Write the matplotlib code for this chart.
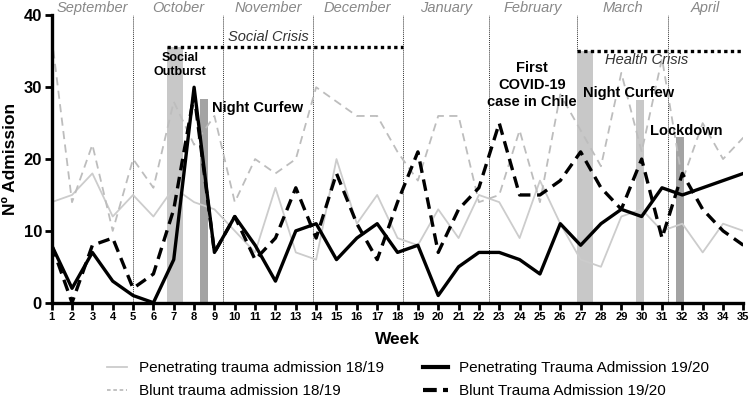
import matplotlib
matplotlib.use('Agg')
import matplotlib.pyplot as plt
from matplotlib.lines import Line2D

plt.rcParams['font.family'] = ['Liberation Sans', 'DejaVu Sans']

# Weekly admissions, Sept -> April
weeks = list(range(1, 36))
pen_1819 = [14, 15, 18, 12, 15, 12, 16, 14, 13, 10, 7, 16, 7, 6, 20, 11, 15, 9, 8, 13,
            9, 15, 14, 9, 17, 11, 6, 5, 12, 13, 10, 11, 7, 11, 10]
blunt_1819 = [37, 14, 22, 10, 20, 16, 28, 22, 26, 14, 20, 18, 20, 30, 28, 26, 26, 21, 17, 26,
              26, 14, 15, 24, 14, 29, 24, 19, 32, 21, 34, 17, 25, 20, 23]
pen_1920 = [8, 2, 7, 3, 1, 0, 6, 30, 7, 12, 8, 3, 10, 11, 6, 9, 11, 7, 8, 1,
            5, 7, 7, 6, 4, 11, 8, 11, 13, 12, 16, 15, 16, 17, 18]
blunt_1920 = [8, 0, 8, 9, 2, 4, 13, 29, 7, 12, 6, 9, 16, 9, 18, 11, 6, 14, 21, 7,
              13, 16, 25, 15, 15, 17, 21, 16, 13, 20, 9, 18, 13, 10, 8]

months = ['September', 'October', 'November', 'December', 'January', 'February', 'March', 'April']
month_edges = [1, 5, 9.43, 13.83, 18.26, 22.5, 26.84, 31.29, 35]

# event bars: (start week, end week, height, colour)
events = [(6.67, 7.45, 35.6, '#c8c8c8'),
          (8.30, 8.69, 28.3, '#a3a3a3'),
          (26.84, 27.6, 35.1, '#c8c8c8'),
          (29.7, 30.1, 28.2, '#c8c8c8'),
          (31.68, 32.09, 23.1, '#a3a3a3')]

fig = plt.figure(figsize=(7.49, 4.11), dpi=100)
ax = fig.add_axes([0.069, 0.2635, 0.9235, 0.699])

# month separators
for e in month_edges[1:]:
    ax.axvline(e, color='#333333', lw=0.7, ls=(0, (1, 1)), zorder=1)
for i, m in enumerate(months):
    mid = (month_edges[i] + month_edges[i + 1]) / 2
    ax.text(mid, 40.45, m, ha='center', va='baseline', fontsize=10.5, style='italic',
            color='#888888', clip_on=False)

# event bars
for x0, x1, h, c in events:
    ax.bar((x0 + x1) / 2, h, width=x1 - x0, color=c, zorder=1)

# crisis periods
ax.plot([6.67, 18.26], [35.6, 35.6], color='black', lw=2.4, dashes=(1, 1), zorder=2)
ax.plot([26.84, 35], [35.1, 35.1], color='black', lw=2.4, dashes=(1, 1), zorder=2)

ax.plot(weeks, pen_1819, color='#cccccc', lw=1.3, zorder=2)
ax.plot(weeks, blunt_1819, color='#bdbdbd', lw=1.3, dashes=(4.5, 3), zorder=2)
ax.plot(weeks, pen_1920, color='black', lw=2.4, zorder=3)
ax.plot(weeks, blunt_1920, color='black', lw=2.4, dashes=(3.5, 2), zorder=3)

# annotations
ax.text(7.31, 33.1, 'Social\nOutburst', ha='center', va='center', fontsize=9,
        fontweight='bold', linespacing=1.2, zorder=4)
ax.text(8.87, 27.1, 'Night Curfew', ha='left', va='center', fontsize=10.5,
        fontweight='bold', zorder=4)
ax.text(11.63, 37.0, 'Social Crisis', ha='center', va='center', fontsize=10.5,
        style='italic', color='#333333', zorder=4)
ax.text(24.6, 30.3, 'First\nCOVID-19\ncase in Chile', ha='center', va='center',
        fontsize=10.5, fontweight='bold', linespacing=1.25, zorder=4)
ax.text(30.23, 33.8, 'Health Crisis', ha='center', va='center', fontsize=10.5,
        style='italic', color='#333333', zorder=4)
ax.text(29.34, 29.2, 'Night Curfew', ha='center', va='center', fontsize=10.5,
        fontweight='bold', zorder=4)
ax.text(32.2, 23.9, 'Lockdown', ha='center', va='center', fontsize=10.5,
        fontweight='bold', zorder=4)

ax.set_xlim(1, 35)
ax.set_ylim(0, 40)
ax.set_xticks(weeks)
ax.set_xticklabels([str(w) for w in weeks], fontsize=8, fontweight='bold')
ax.set_yticks([0, 10, 20, 30, 40])
ax.set_yticklabels(['0', '10', '20', '30', '40'], fontsize=12, fontweight='bold')
ax.tick_params(axis='both', width=2, length=5, pad=2)
for s in ['top', 'right']:
    ax.spines[s].set_visible(False)
for s in ['left', 'bottom']:
    ax.spines[s].set_linewidth(2.4)

ax.set_xlabel('Week', fontsize=12.5, fontweight='bold', labelpad=7)
ax.set_ylabel('Nº Admission', fontsize=12.5, fontweight='bold', labelpad=4)

# legend, two columns
h1 = [Line2D([], [], color='#cccccc', lw=1.3),
      Line2D([], [], color='#bdbdbd', lw=1.3, dashes=(2, 1.5))]
h2 = [Line2D([], [], color='black', lw=3),
      Line2D([], [], color='black', lw=3, dashes=(3.3, 1.5))]
fig.legend(h1, ['Penetrating trauma admission 18/19', 'Blunt trauma admission 18/19'],
           loc='center left', bbox_to_anchor=(0.125, 0.076), frameon=False,
           fontsize=11, handlelength=1.3, handletextpad=0.8, labelspacing=0.6)
fig.legend(h2, ['Penetrating Trauma Admission 19/20', 'Blunt Trauma Admission 19/20'],
           loc='center left', bbox_to_anchor=(0.547, 0.076), frameon=False,
           fontsize=11, handlelength=1.6, handletextpad=0.7, labelspacing=0.6)

plt.savefig('out.png', dpi=100)
